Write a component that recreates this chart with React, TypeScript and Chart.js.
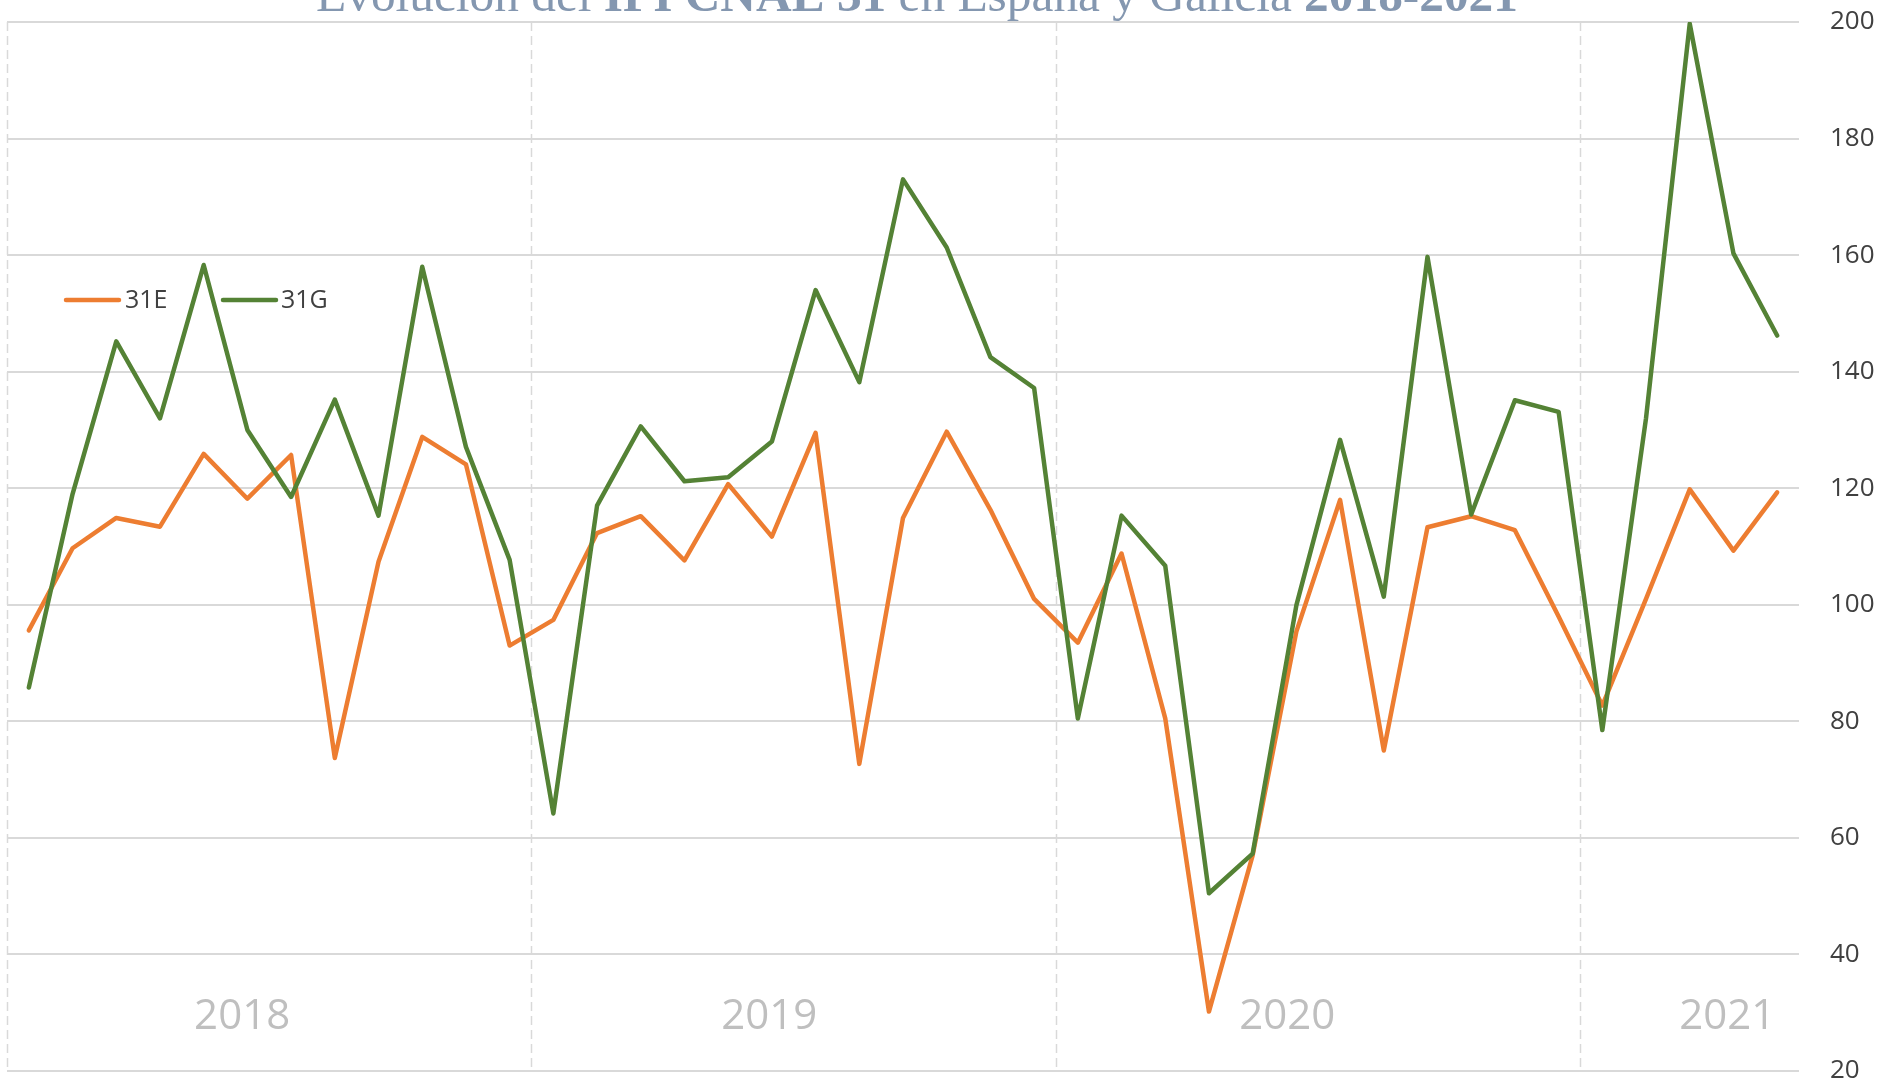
import React, { useEffect, useRef } from 'react';
import { Chart, registerables } from 'chart.js';

Chart.register(...registerables);

const months = [
  'ene 2018', 'feb 2018', 'mar 2018', 'abr 2018', 'may 2018', 'jun 2018', 'jul 2018', 'ago 2018', 'sep 2018', 'oct 2018', 'nov 2018', 'dic 2018',
  'ene 2019', 'feb 2019', 'mar 2019', 'abr 2019', 'may 2019', 'jun 2019', 'jul 2019', 'ago 2019', 'sep 2019', 'oct 2019', 'nov 2019', 'dic 2019',
  'ene 2020', 'feb 2020', 'mar 2020', 'abr 2020', 'may 2020', 'jun 2020', 'jul 2020', 'ago 2020', 'sep 2020', 'oct 2020', 'nov 2020', 'dic 2020',
  'ene 2021', 'feb 2021', 'mar 2021', 'abr 2021', 'may 2021',
];

const serie31E = [
  95.6, 109.7, 114.9, 113.4, 125.9, 118.2, 125.7, 73.7, 107.4, 128.8, 124.1, 93.0,
  97.4, 112.3, 115.2, 107.6, 120.7, 111.7, 129.5, 72.7, 114.9, 129.7, 116.3, 101.0,
  93.5, 108.8, 80.5, 30.2, 57.0, 95.4, 118.0, 75.0, 113.3, 115.2, 112.8, 98.0,
  82.7, 101.0, 119.8, 109.3, 119.3,
];

const serie31G = [
  85.8, 119.0, 145.2, 132.0, 158.3, 130.0, 118.5, 135.2, 115.3, 158.0, 127.1, 107.7,
  64.2, 117.0, 130.6, 121.2, 121.9, 128.0, 154.0, 138.2, 173.0, 161.3, 142.5, 137.2,
  80.5, 115.3, 106.7, 50.5, 57.3, 99.9, 128.3, 101.4, 159.7, 115.5, 135.1, 133.1,
  78.5, 132.0, 199.7, 160.3, 146.2,
];

const seriesNames = ['31E', '31G'];
const seriesColors = ['#ED7D31', '#548235'];

const yearLabels = ['2018', '2019', '2020', '2021'];

const titleParts = [
  { text: 'Evolución del ', bold: false },
  { text: 'IPI CNAE 31', bold: true },
  { text: ' en España y Galicia ', bold: false },
  { text: '2018-2021', bold: true },
];

const yMin = 20;
const yMax = 200;
const yStep = 20;

const decorPlugin = {
  id: 'decor',
  beforeDatasetsDraw(chart: any) {
    const { ctx, chartArea } = chart;
    const xs = chart.scales.x;
    ctx.save();
    ctx.strokeStyle = '#d9d9d9';
    ctx.lineWidth = 1.5;
    ctx.setLineDash([9, 5]);
    months.forEach((m, i) => {
      if (m.startsWith('ene')) {
        const x = Math.round(xs.getPixelForValue(i - 0.5)) + 0.5;
        ctx.beginPath();
        ctx.moveTo(x, chartArea.top);
        ctx.lineTo(x, chartArea.bottom);
        ctx.stroke();
      }
    });
    ctx.setLineDash([]);
    const labelAt = [4.88, 16.94, 28.79, 38.86];
    ctx.fillStyle = '#bfbfbf';
    ctx.font = '42px "Open Sans", sans-serif';
    ctx.textAlign = 'center';
    ctx.textBaseline = 'alphabetic';
    yearLabels.forEach((y, i) => {
      ctx.fillText(y, xs.getPixelForValue(labelAt[i]), 1029);
    });
    ctx.restore();
  },
  afterDraw(chart: any) {
    const { ctx } = chart;
    ctx.save();
    const legendY = 300;
    const items = [
      { x0: 66, x1: 119, tx: 125 },
      { x0: 223, x1: 276, tx: 281 },
    ];
    items.forEach((it, i) => {
      ctx.strokeStyle = seriesColors[i];
      ctx.lineWidth = 4.5;
      ctx.lineCap = 'round';
      ctx.beginPath();
      ctx.moveTo(it.x0, legendY);
      ctx.lineTo(it.x1, legendY);
      ctx.stroke();
      ctx.fillStyle = '#404040';
      ctx.font = '25px "Open Sans", sans-serif';
      ctx.textAlign = 'left';
      ctx.textBaseline = 'middle';
      ctx.fillText(seriesNames[i], it.tx, legendY + 1);
    });
    const base = 40;
    const fontFor = (b: boolean, s: number) => `${b ? 'bold ' : ''}${s}px "Liberation Serif", serif`;
    let total = 0;
    titleParts.forEach((p) => {
      ctx.font = fontFor(p.bold, base);
      total += ctx.measureText(p.text).width;
    });
    const size = base * (1202 / total);
    let w = 0;
    const widths = titleParts.map((p) => {
      ctx.font = fontFor(p.bold, size);
      const ww = ctx.measureText(p.text).width;
      w += ww;
      return ww;
    });
    let x = 917 - w / 2;
    ctx.fillStyle = '#8497b0';
    ctx.textAlign = 'left';
    ctx.textBaseline = 'alphabetic';
    titleParts.forEach((p, i) => {
      ctx.font = fontFor(p.bold, size);
      ctx.fillText(p.text, x, 11);
      x += widths[i];
    });
    ctx.restore();
  },
};

export default function App() {
  const ref = useRef<HTMLCanvasElement | null>(null);

  useEffect(() => {
    if (!ref.current) return;
    const chart = new Chart(ref.current, {
      type: 'line',
      data: {
        labels: months,
        datasets: [
          {
            label: seriesNames[0],
            data: serie31E,
            borderColor: seriesColors[0],
            backgroundColor: seriesColors[0],
            borderWidth: 4.5,
            pointRadius: 0,
            tension: 0,
            borderJoinStyle: 'round',
            borderCapStyle: 'round',
            order: 1,
          },
          {
            label: seriesNames[1],
            data: serie31G,
            borderColor: seriesColors[1],
            backgroundColor: seriesColors[1],
            borderWidth: 4.5,
            pointRadius: 0,
            tension: 0,
            borderJoinStyle: 'round',
            borderCapStyle: 'round',
            order: 0,
          },
        ],
      },
      options: {
        animation: false,
        responsive: true,
        maintainAspectRatio: false,
        layout: { padding: { left: 7, top: 22, right: 0, bottom: 13 } },
        plugins: {
          legend: { display: false },
          title: { display: false },
          tooltip: { enabled: false },
        },
        scales: {
          x: {
            type: 'category',
            display: false,
            offset: true,
            grid: { display: false },
            border: { display: false },
            ticks: { display: false },
          },
          y: {
            position: 'right',
            min: yMin,
            max: yMax,
            ticks: {
              stepSize: yStep,
              color: '#404040',
              padding: 31,
              font: { family: '"Open Sans", sans-serif', size: 26 },
            },
            grid: { color: '#d9d9d9', lineWidth: 2, drawTicks: false },
            border: { display: false },
            afterFit: (s: any) => {
              s.width = 81;
              s.paddingTop = 0;
              s.paddingBottom = 0;
            },
          },
        },
      },
      plugins: [decorPlugin],
    });
    return () => chart.destroy();
  }, []);

  return (
    <div style={{ position: 'fixed', left: 0, top: 0, width: 1880, height: 1084, background: '#ffffff' }}>
      <canvas ref={ref} />
    </div>
  );
}
